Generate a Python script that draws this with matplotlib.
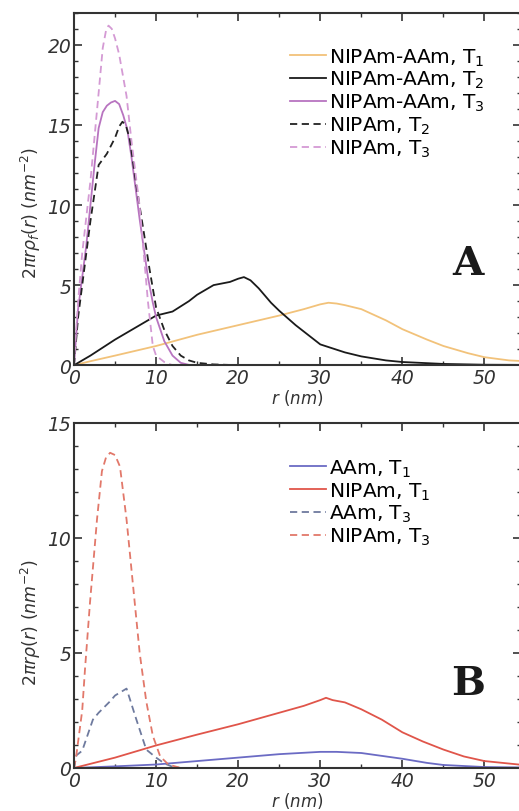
import matplotlib
matplotlib.use("Agg")
import matplotlib.pyplot as plt
from matplotlib.ticker import MultipleLocator

plt.rcParams["font.family"] = ["DejaVu Sans"]
plt.rcParams["mathtext.fontset"] = "dejavusans"

# panel A: NIPAm-AAm copolymer and pure NIPAm profiles
r_cop_t1 = [0, 2, 5, 10, 15, 20, 25, 28, 30, 31, 32, 33, 35, 38, 40, 43, 45, 48, 50, 53, 55]
y_cop_t1 = [0, 0.25, 0.6, 1.2, 1.9, 2.5, 3.1, 3.5, 3.8, 3.9, 3.85, 3.75, 3.5, 2.8, 2.25, 1.6, 1.2, 0.75, 0.5, 0.3, 0.25]
r_cop_t2 = [0, 2, 5, 8, 10, 12, 14, 15, 17, 19, 20, 20.7, 21.5, 22.5, 24, 25, 27, 30, 33, 35, 38, 40, 45, 50, 55]
y_cop_t2 = [0, 0.6, 1.6, 2.5, 3.1, 3.35, 4.0, 4.4, 5.0, 5.2, 5.4, 5.5, 5.3, 4.8, 3.9, 3.4, 2.5, 1.3, 0.8, 0.55, 0.3, 0.2, 0.08, 0.03, 0.02]
r_cop_t3 = [0, 0.5, 1, 1.5, 2, 2.5, 3, 3.5, 4, 4.5, 5, 5.5, 6, 6.5, 7, 8, 9, 9.6, 10, 11, 12, 13, 14, 55]
y_cop_t3 = [0, 3.5, 5.5, 7.5, 10, 12.5, 14.8, 15.8, 16.2, 16.4, 16.5, 16.3, 15.6, 14.7, 13.0, 9.1, 5.5, 3.9, 3.0, 1.5, 0.6, 0.15, 0.02, 0]
r_nip_t2 = [0, 0.5, 1, 2, 3, 4, 5, 5.5, 5.9, 6.3, 6.8, 7.6, 8.5, 9.2, 10, 10.5, 11, 12, 13, 14, 15, 17, 20]
y_nip_t2 = [0, 3, 5, 9, 12.5, 13.2, 14.2, 14.9, 15.2, 15.0, 14.1, 11.2, 8.3, 6.0, 3.6, 2.9, 2.2, 1.2, 0.6, 0.3, 0.15, 0.05, 0]
r_nip_t3 = [0, 0.5, 1, 2, 3, 3.5, 3.9, 4.2, 4.6, 5, 5.5, 6.4, 7, 8, 9, 9.6, 10, 11, 12]
y_nip_t3 = [0, 4, 7, 11.5, 17, 19.8, 20.9, 21.2, 21.0, 20.4, 19.4, 16.8, 14, 9.9, 4.0, 1.2, 0.6, 0.2, 0]

# panel B: monomer-resolved profiles
r_aam_t1 = [0, 5, 10, 15, 20, 25, 30, 32, 35, 38, 40, 43, 45, 50, 55]
y_aam_t1 = [0, 0.07, 0.15, 0.3, 0.45, 0.6, 0.7, 0.7, 0.65, 0.5, 0.4, 0.22, 0.13, 0.04, 0.02]
r_nipb_t1 = [0, 5, 10, 15, 20, 25, 28, 30, 30.7, 31.5, 33, 35, 37.5, 40, 42.5, 45, 47.5, 50, 55]
y_nipb_t1 = [0, 0.45, 0.98, 1.45, 1.9, 2.4, 2.7, 2.95, 3.05, 2.95, 2.85, 2.55, 2.1, 1.55, 1.15, 0.8, 0.5, 0.3, 0.12]
r_aam_t3 = [0, 0.3, 1, 2.3, 3, 4.4, 5, 6.4, 7.6, 8.8, 10, 11, 12, 13]
y_aam_t3 = [0, 0.55, 0.75, 2.1, 2.4, 2.9, 3.15, 3.45, 2.1, 0.8, 0.45, 0.2, 0.05, 0]
r_nipb_t3 = [0, 0.3, 1, 1.34, 1.95, 2.8, 3.4, 3.9, 4.4, 5.0, 5.6, 6.4, 7.2, 8, 8.8, 9.6, 10.5, 11.5, 13]
y_nipb_t3 = [0, 0.6, 2.5, 4.3, 7.2, 10.8, 12.9, 13.5, 13.7, 13.6, 13.1, 10.8, 7.9, 5.0, 2.9, 1.4, 0.5, 0.15, 0]

panel_a = [
    (r_cop_t1, y_cop_t1, "#f2c27a", "-", "NIPAm-AAm, T$_1$"),
    (r_cop_t2, y_cop_t2, "#1a1a1a", "-", "NIPAm-AAm, T$_2$"),
    (r_cop_t3, y_cop_t3, "#b874c0", "-", "NIPAm-AAm, T$_3$"),
    (r_nip_t2, y_nip_t2, "#222222", "--", "NIPAm, T$_2$"),
    (r_nip_t3, y_nip_t3, "#d49ad4", "--", "NIPAm, T$_3$"),
]
panel_b = [
    (r_aam_t1, y_aam_t1, "#6b6bc4", "-", "AAm, T$_1$"),
    (r_nipb_t1, y_nipb_t1, "#e0554a", "-", "NIPAm, T$_1$"),
    (r_aam_t3, y_aam_t3, "#6e7a9e", "--", "AAm, T$_3$"),
    (r_nipb_t3, y_nipb_t3, "#e2786a", "--", "NIPAm, T$_3$"),
]

fig = plt.figure(figsize=(5.19, 8.12), dpi=100)
ax_a = fig.add_axes([0.1426, 0.549, 0.862, 0.434])
ax_b = fig.add_axes([0.1426, 0.053, 0.862, 0.425])


def style_axes(ax, ymax, ylabel, letter, letter_y, ylab_y):
    ax.set_xlim(0, 54.5)
    ax.set_ylim(0, ymax)
    ax.xaxis.set_major_locator(MultipleLocator(10))
    ax.xaxis.set_minor_locator(MultipleLocator(5))
    ax.yaxis.set_major_locator(MultipleLocator(5))
    ax.yaxis.set_minor_locator(MultipleLocator(1))
    ax.tick_params(which="both", direction="in", top=True, right=True,
                   color="#333333", labelsize=13.5, pad=2)
    ax.tick_params(which="major", length=6, width=1.2)
    ax.tick_params(which="minor", length=3, width=1.0)
    for lab in ax.get_xticklabels() + ax.get_yticklabels():
        lab.set_fontstyle("italic")
        lab.set_color("#333333")
    for sp in ax.spines.values():
        sp.set_linewidth(1.5)
        sp.set_color("#333333")
    ax.set_xlabel(r"$r\ (nm)$", fontsize=12, color="#333333", labelpad=0)
    ax.set_ylabel(ylabel, fontsize=12.5, color="#333333")
    ax.yaxis.set_label_coords(-0.07, ylab_y)
    ax.text(0.88, letter_y, letter, transform=ax.transAxes, fontsize=29,
            fontweight="bold", family="DejaVu Serif", ha="center", va="center",
            color="#1a1a1a")


for ax, series, top in ((ax_a, panel_a, 0.905), (ax_b, panel_b, 0.9)):
    for r, y, color, ls, label in series:
        ax.plot(r, y, color=color, ls=ls, lw=1.3, label=label,
                dashes=(4, 2.5) if ls == "--" else (None, None))
    ax.legend(loc="upper left", bbox_to_anchor=(0.483, top), frameon=False,
              fontsize=14.5, handlelength=1.8, handletextpad=0.15,
              labelspacing=0.08, borderpad=0, borderaxespad=0)

style_axes(ax_a, 22, r"$2\pi r\rho_f(r)\ (nm^{-2})$", "A", 0.29, 0.435)
style_axes(ax_b, 15, r"$2\pi r\rho(r)\ (nm^{-2})$", "B", 0.246, 0.425)

fig.savefig("out.png", dpi=100)
